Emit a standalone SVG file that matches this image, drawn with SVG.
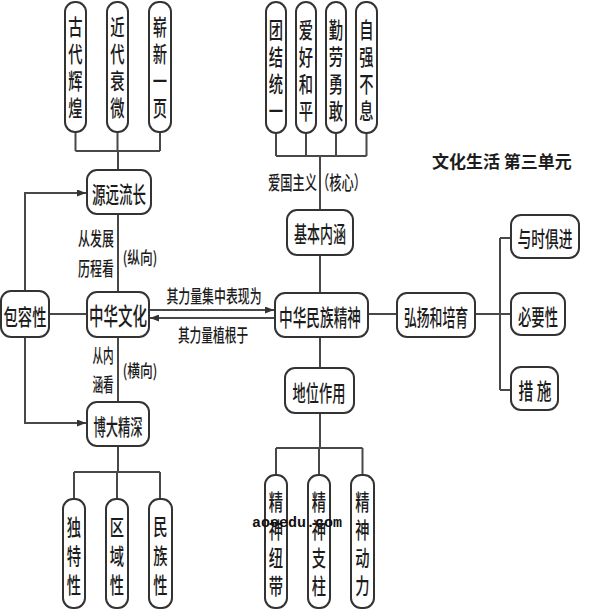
<svg xmlns="http://www.w3.org/2000/svg" width="590" height="614" viewBox="0 0 590 614">
<defs>
<style>
.b{fill:#fff;stroke:#333;stroke-width:2}
.c{fill:none;stroke:#484848;stroke-width:2}
.t{font-family:"Noto Sans CJK SC","Noto Sans CJK JP",sans-serif;font-weight:500;fill:#1c1c1c;text-anchor:middle;dominant-baseline:central}
.v{font-size:22px}
.m{font-size:23px}
.l{font-size:19px}
.s{text-anchor:start}
</style>
<marker id="ah" markerUnits="userSpaceOnUse" markerWidth="9" markerHeight="7" refX="9" refY="3.5" orient="auto">
<path d="M0,0 L9,3.5 L0,7 z" fill="#333"/>
</marker>
</defs>
<rect width="590" height="614" fill="#fff"/>

<g id="connectors">
<path class="c" d="M75.5,132 V151 M117.5,132 V151 M160,132 V151 M75.5,151 H160 M118,151 V170"/>
<path class="c" d="M118,214 V292 M118,337 V402"/>
<path class="c" d="M118,446 V472 M74,472 H160 M74,472 V499 M117,472 V499 M160,472 V499"/>
<path class="c" d="M49,314 H87"/>
<path class="c" d="M25,291 V193 H86" marker-end="url(#ah)"/>
<path class="c" d="M25,337 V423 H86" marker-end="url(#ah)"/>
<path class="c" d="M150,310 H274" marker-end="url(#ah)"/>
<path class="c" d="M274,318 H150" marker-end="url(#ah)"/>
<path class="c" d="M276,133 V156 M306,133 V156 M336,133 V156 M366.5,133 V156 M276,156 H366.5 M320,156 V210"/>
<path class="c" d="M320,255 V293 M320,337 V368"/>
<path class="c" d="M320,413 V448 M276,448 H362.5 M276,448 V475 M319,448 V475 M362.5,448 V475"/>
<path class="c" d="M368,314 H397 M475,314 H511 M500,238 V390 M500,238 H511 M500,390 H511"/>
</g>

<g id="n_gudai"><rect class="b" x="65" y="2" width="21" height="130" rx="10"/>
<text class="t v" transform="matrix(0.65 0 0 1 75.5 25)">古</text>
<text class="t v" transform="matrix(0.65 0 0 1 75.5 52)">代</text>
<text class="t v" transform="matrix(0.65 0 0 1 75.5 79)">辉</text>
<text class="t v" transform="matrix(0.65 0 0 1 75.5 106)">煌</text></g>
<g id="n_jindai"><rect class="b" x="107" y="2" width="21" height="130" rx="10"/>
<text class="t v" transform="matrix(0.65 0 0 1 117.5 25)">近</text>
<text class="t v" transform="matrix(0.65 0 0 1 117.5 52)">代</text>
<text class="t v" transform="matrix(0.65 0 0 1 117.5 79)">衰</text>
<text class="t v" transform="matrix(0.65 0 0 1 117.5 106)">微</text></g>
<g id="n_zhanxin"><rect class="b" x="149" y="2" width="22" height="130" rx="10"/>
<text class="t v" transform="matrix(0.65 0 0 1 160 25)">崭</text>
<text class="t v" transform="matrix(0.65 0 0 1 160 52)">新</text>
<text class="t v" transform="matrix(0.65 0 0 1 160 79)">一</text>
<text class="t v" transform="matrix(0.65 0 0 1 160 106)">页</text></g>

<g id="n_yuanyuan"><rect class="b" x="87" y="170" width="64" height="44" rx="10"/>
<text class="t m" transform="matrix(0.587 0 0 1 119 193)">源远流长</text></g>
<g id="n_zhonghua"><rect class="b" x="87" y="292" width="62" height="45" rx="10"/>
<text class="t" style="font-size:24px" transform="matrix(0.604 0 0 1 118 315)">中华文化</text></g>
<g id="n_boda"><rect class="b" x="87" y="402" width="62" height="44" rx="10"/>
<text class="t v" transform="matrix(0.56 0 0 1 118 425)">博大精深</text></g>
<g id="n_baorong"><rect class="b" x="1" y="291" width="48" height="46" rx="10"/>
<text class="t v" transform="matrix(0.65 0 0 1 25 315)">包容性</text></g>

<g id="n_dute"><rect class="b" x="63" y="499" width="22" height="109" rx="10"/>
<text class="t v" transform="matrix(0.65 0 0 1 74 525)">独</text>
<text class="t v" transform="matrix(0.65 0 0 1 74 554)">特</text>
<text class="t v" transform="matrix(0.65 0 0 1 74 583)">性</text></g>
<g id="n_quyu"><rect class="b" x="106" y="499" width="22" height="109" rx="10"/>
<text class="t v" transform="matrix(0.65 0 0 1 117 525)">区</text>
<text class="t v" transform="matrix(0.65 0 0 1 117 554)">域</text>
<text class="t v" transform="matrix(0.65 0 0 1 117 583)">性</text></g>
<g id="n_minzu"><rect class="b" x="149" y="499" width="23" height="109" rx="10"/>
<text class="t v" transform="matrix(0.65 0 0 1 160.5 525)">民</text>
<text class="t v" transform="matrix(0.65 0 0 1 160.5 554)">族</text>
<text class="t v" transform="matrix(0.65 0 0 1 160.5 583)">性</text></g>

<g id="n_tuanjie"><rect class="b" x="266" y="2" width="20" height="131" rx="10"/>
<text class="t v" transform="matrix(0.65 0 0 1 276 28)">团</text>
<text class="t v" transform="matrix(0.65 0 0 1 276 55)">结</text>
<text class="t v" transform="matrix(0.65 0 0 1 276 82)">统</text>
<text class="t v" transform="matrix(0.65 0 0 1 276 109)">一</text></g>
<g id="n_aihao"><rect class="b" x="296" y="2" width="20" height="131" rx="10"/>
<text class="t v" transform="matrix(0.65 0 0 1 306 28)">爱</text>
<text class="t v" transform="matrix(0.65 0 0 1 306 55)">好</text>
<text class="t v" transform="matrix(0.65 0 0 1 306 82)">和</text>
<text class="t v" transform="matrix(0.65 0 0 1 306 109)">平</text></g>
<g id="n_qinlao"><rect class="b" x="326" y="2" width="20" height="131" rx="10"/>
<text class="t v" transform="matrix(0.65 0 0 1 336 28)">勤</text>
<text class="t v" transform="matrix(0.65 0 0 1 336 55)">劳</text>
<text class="t v" transform="matrix(0.65 0 0 1 336 82)">勇</text>
<text class="t v" transform="matrix(0.65 0 0 1 336 109)">敢</text></g>
<g id="n_ziqiang"><rect class="b" x="356" y="2" width="21" height="131" rx="10"/>
<text class="t v" transform="matrix(0.65 0 0 1 366.5 28)">自</text>
<text class="t v" transform="matrix(0.65 0 0 1 366.5 55)">强</text>
<text class="t v" transform="matrix(0.65 0 0 1 366.5 82)">不</text>
<text class="t v" transform="matrix(0.65 0 0 1 366.5 109)">息</text></g>

<g id="n_jiben"><rect class="b" x="287" y="210" width="66" height="45" rx="10"/>
<text class="t v" transform="matrix(0.59 0 0 1 320 232)">基本内涵</text></g>
<g id="n_minzujingshen"><rect class="b" x="275" y="293" width="93" height="44" rx="10"/>
<text class="t m" transform="matrix(0.594 0 0 1 320 316)">中华民族精神</text></g>
<g id="n_diwei"><rect class="b" x="285" y="368" width="69" height="45" rx="10"/>
<text class="t v" transform="matrix(0.60 0 0 1 319 391)">地位作用</text></g>

<g id="n_niudai"><rect class="b" x="265" y="475" width="22" height="133" rx="10"/>
<text class="t v" transform="matrix(0.65 0 0 1 276 500)">精</text>
<text class="t v" transform="matrix(0.65 0 0 1 276 528)">神</text>
<text class="t v" transform="matrix(0.65 0 0 1 276 556)">纽</text>
<text class="t v" transform="matrix(0.65 0 0 1 276 584)">带</text></g>
<g id="n_zhizhu"><rect class="b" x="308" y="475" width="22" height="133" rx="10"/>
<text class="t v" transform="matrix(0.65 0 0 1 319 500)">精</text>
<text class="t v" transform="matrix(0.65 0 0 1 319 528)">神</text>
<text class="t v" transform="matrix(0.65 0 0 1 319 556)">支</text>
<text class="t v" transform="matrix(0.65 0 0 1 319 584)">柱</text></g>
<g id="n_dongli"><rect class="b" x="351" y="475" width="23" height="133" rx="10"/>
<text class="t v" transform="matrix(0.65 0 0 1 362.5 500)">精</text>
<text class="t v" transform="matrix(0.65 0 0 1 362.5 528)">神</text>
<text class="t v" transform="matrix(0.65 0 0 1 362.5 556)">动</text>
<text class="t v" transform="matrix(0.65 0 0 1 362.5 584)">力</text></g>

<g id="n_hongyang"><rect class="b" x="397" y="293" width="78" height="44" rx="10"/>
<text class="t m" transform="matrix(0.557 0 0 1 436 315)">弘扬和培育</text></g>
<g id="n_yushi"><rect class="b" x="511" y="215" width="68" height="43" rx="10"/>
<text class="t v" transform="matrix(0.625 0 0 1 545 237)">与时俱进</text></g>
<g id="n_biyao"><rect class="b" x="511" y="293" width="54" height="42" rx="10"/>
<text class="t v" transform="matrix(0.606 0 0 1 538 315)">必要性</text></g>
<g id="n_cuoshi"><rect class="b" x="511" y="367" width="47" height="43" rx="10"/>
<text class="t v" transform="matrix(0.67 0 0 1 535 389)">措 施</text></g>

<g id="labels">
<text class="t s" x="432" y="160" style="font-size:17px;font-weight:bold">文化生活 第三单元</text>
<text class="t l s" transform="matrix(0.645 0 0 1 268 182)">爱国主义（核心）</text>
<text class="t l" transform="matrix(0.63 0 0 1 96 238)">从发展</text>
<text class="t l" transform="matrix(0.63 0 0 1 96 268)">历程看</text>
<text class="t" style="font-size:17px" transform="matrix(0.75 0 0 1 140 257)">(纵向)</text>
<text class="t l" transform="matrix(0.56 0 0 1 103 354)">从内</text>
<text class="t l" transform="matrix(0.56 0 0 1 103 383)">涵看</text>
<text class="t" style="font-size:17px" transform="matrix(0.75 0 0 1 140 370)">(横向)</text>
<text class="t" style="font-size:18px" transform="matrix(0.66 0 0 1 214 295)">其力量集中表现为</text>
<text class="t" style="font-size:18px" transform="matrix(0.65 0 0 1 213 334)">其力量植根于</text>
<text x="252" y="527" style="font-family:'Liberation Mono',monospace;font-size:15px;font-weight:bold;fill:#111">aoeedu.com</text>
</g>
</svg>
